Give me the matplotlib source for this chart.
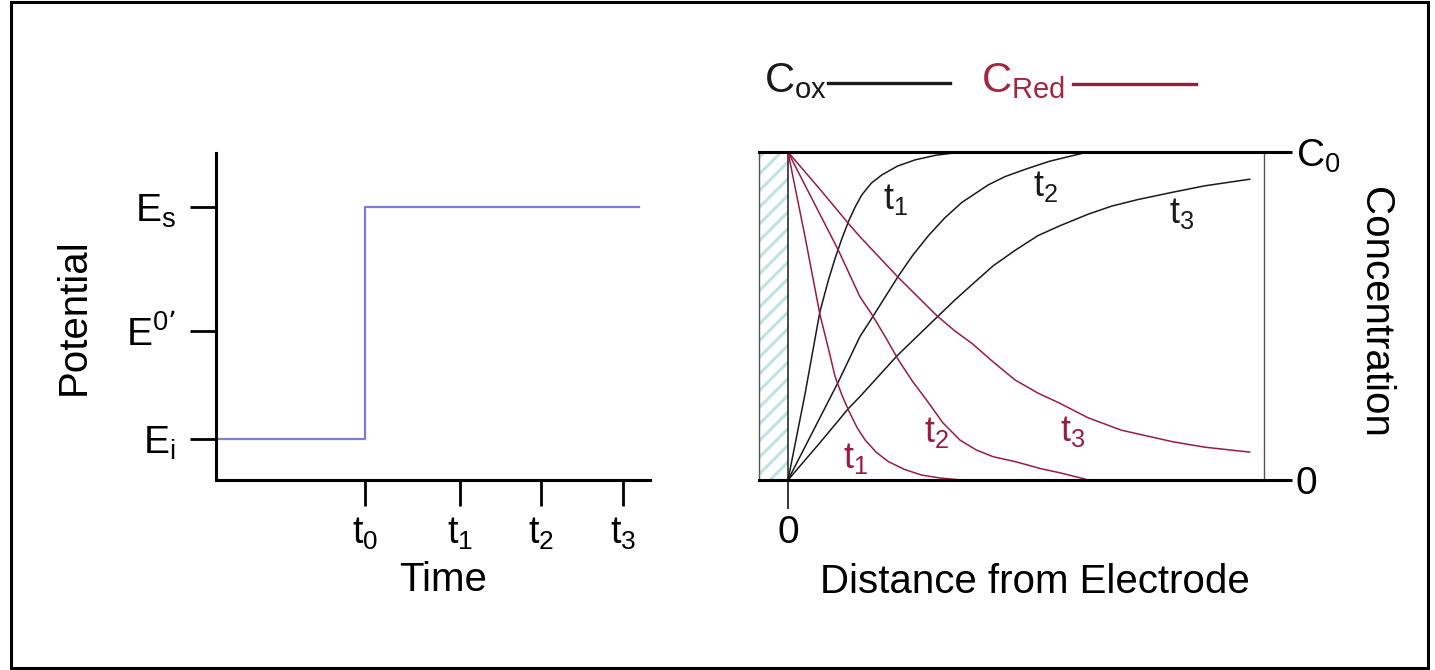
import matplotlib
matplotlib.use('Agg')
import matplotlib.pyplot as plt
from matplotlib.patches import Rectangle
from matplotlib.lines import Line2D

plt.rcParams['font.family'] = ['Liberation Sans', 'DejaVu Sans']
plt.rcParams['mathtext.default'] = 'regular'
plt.rcParams['hatch.linewidth'] = 2.2

W, H = 1435, 670

# potential step (left panel), arbitrary units
time_ticks = [1.49, 2.44, 3.25, 4.07]
time_labels = ['$t_0$', '$t_1$', '$t_2$', '$t_3$']
pot_ticks = [0.41, 1.49, 2.73]
pot_labels = ['$E_i$', '$E^{0’}$', '$E_s$']
step_t = [0.0, 1.49, 1.49, 4.23]
step_E = [0.41, 0.41, 2.73, 2.73]

# concentration profiles (right panel), distance and C/C0
ox_t1_x = [0, 0.036, 0.067, 0.085, 0.099, 0.113, 0.127, 0.141, 0.155, 0.175, 0.197, 0.23, 0.267, 0.31, 0.365]
ox_t1_c = [0, 0.264, 0.513, 0.61, 0.676, 0.735, 0.788, 0.832, 0.869, 0.905, 0.93, 0.957, 0.976, 0.99, 1.0]
ox_t2_x = [0, 0.106, 0.151, 0.176, 0.205, 0.232, 0.262, 0.295, 0.33, 0.365, 0.421, 0.456, 0.5, 0.55, 0.624]
ox_t2_c = [0, 0.30, 0.437, 0.493, 0.56, 0.622, 0.685, 0.745, 0.80, 0.846, 0.90, 0.925, 0.948, 0.972, 0.998]
ox_t3_x = [0, 0.065, 0.127, 0.151, 0.23, 0.312, 0.35, 0.386, 0.431, 0.477, 0.525, 0.571, 0.63, 0.68, 0.735, 0.807, 0.876, 0.97]
ox_t3_c = [0, 0.11, 0.218, 0.254, 0.38, 0.495, 0.548, 0.595, 0.653, 0.70, 0.745, 0.775, 0.81, 0.835, 0.855, 0.877, 0.897, 0.917]

red_t1_x = [0, 0.036, 0.067, 0.085, 0.099, 0.113, 0.127, 0.145, 0.162, 0.185, 0.211, 0.245, 0.281, 0.32, 0.365]
red_t1_c = [1, 0.74, 0.505, 0.40, 0.315, 0.26, 0.213, 0.16, 0.122, 0.085, 0.056, 0.032, 0.015, 0.006, 0.0]
red_t2_x = [0, 0.106, 0.151, 0.176, 0.205, 0.232, 0.262, 0.291, 0.325, 0.361, 0.395, 0.431, 0.48, 0.53, 0.571, 0.624]
red_t2_c = [1, 0.70, 0.559, 0.505, 0.435, 0.366, 0.30, 0.244, 0.175, 0.122, 0.092, 0.071, 0.055, 0.035, 0.022, 0.003]
red_t3_x = [0, 0.065, 0.127, 0.151, 0.23, 0.312, 0.35, 0.386, 0.431, 0.477, 0.525, 0.571, 0.63, 0.70, 0.807, 0.876, 0.97]
red_t3_c = [1, 0.89, 0.782, 0.742, 0.62, 0.502, 0.455, 0.417, 0.36, 0.305, 0.265, 0.234, 0.19, 0.152, 0.117, 0.10, 0.085]

BLUE = '#7b7bdf'
RED = '#9a1c3f'
BLACK = '#1a1a1a'


def fx(x):
    return x / W


def fy(y):
    return 1 - y / H


fig = plt.figure(figsize=(14.35, 6.70), dpi=100)

# outer frame
fig.patches.append(Rectangle((fx(11), fy(668)), fx(1428 - 11), (668 - 2) / H,
                             transform=fig.transFigure, fill=False,
                             edgecolor='black', lw=2.2))

# ---- left panel: potential step
ax1 = fig.add_axes([fx(216), fy(480), fx(650 - 216), (480 - 153) / H])
ax1.plot(step_t, step_E, color=BLUE, lw=1.6)
ax1.set_xlim(0, 4.34)
ax1.set_ylim(0, 3.27)
for s in ['top', 'right']:
    ax1.spines[s].set_visible(False)
for s in ['left', 'bottom']:
    ax1.spines[s].set_linewidth(2.2)
ax1.set_xticks(time_ticks)
ax1.set_xticklabels(time_labels)
ax1.set_yticks(pot_ticks)
ax1.set_yticklabels(pot_labels)
ax1.tick_params(axis='x', direction='out', length=19, width=2.0, pad=7, labelsize=27)
ax1.tick_params(axis='y', direction='out', length=19, width=2.0, pad=10, labelsize=28)
fig.text(fx(443), fy(580), 'Time', fontsize=29, ha='center', va='center')
fig.text(fx(74), fy(317), 'Potential', fontsize=29, rotation=90, ha='center', va='center')

# ---- right panel: concentration profiles
ax2 = fig.add_axes([fx(759), fy(480), fx(1264 - 759), (480 - 152) / H])
ax2.set_xlim(-29 / 476, 1.0)
ax2.set_ylim(0, 1)
# electrode (hatched strip)
ax2.axvspan(-29 / 476, 0, facecolor='white', edgecolor='#bfe3e3', hatch='//', lw=0)
ax2.axvline(0, color=BLACK, lw=1.1)
ax2.plot(ox_t1_x, ox_t1_c, color=BLACK, lw=1.1)
ax2.plot(ox_t2_x, ox_t2_c, color=BLACK, lw=1.1)
ax2.plot(ox_t3_x, ox_t3_c, color=BLACK, lw=1.1)
ax2.plot(red_t1_x, red_t1_c, color=RED, lw=1.1)
ax2.plot(red_t2_x, red_t2_c, color=RED, lw=1.1)
ax2.plot(red_t3_x, red_t3_c, color=RED, lw=1.1)

ax2.spines['top'].set_linewidth(2.2)
ax2.spines['bottom'].set_linewidth(2.2)
ax2.spines['left'].set_color('#555555')
ax2.spines['right'].set_color('#555555')
ax2.spines['left'].set_linewidth(1.0)
ax2.spines['right'].set_linewidth(1.0)
ax2.yaxis.tick_right()
ax2.set_yticks([0, 1])
ax2.set_yticklabels(['0', '$C_0$'])
ax2.tick_params(axis='y', direction='out', length=20, width=2.2, pad=3, labelsize=28)
ax2.set_xticks([0])
ax2.set_xticklabels(['0'])
ax2.tick_params(axis='x', direction='out', length=21, width=1.1, pad=4, labelsize=28)

# curve labels
lab = dict(fontsize=26, ha='center', va='center')
ax2.text(0.225, 0.854, '$t_1$', color=BLACK, **lab)
ax2.text(0.542, 0.896, '$t_2$', color=BLACK, **lab)
ax2.text(0.828, 0.814, '$t_3$', color=BLACK, **lab)
ax2.text(0.141, 0.067, '$t_1$', color=RED, **lab)
ax2.text(0.313, 0.146, '$t_2$', color=RED, **lab)
ax2.text(0.599, 0.149, '$t_3$', color=RED, **lab)

fig.text(fx(1035), fy(582), 'Distance from Electrode', fontsize=29, ha='center', va='center')
fig.text(fx(1375), fy(312), 'Concentration', fontsize=29, rotation=270, ha='center', va='center')

# legend above the right panel
fig.text(fx(764), fy(92), '$C_{ox}$', fontsize=30, ha='left', va='baseline', color=BLACK)
fig.lines.append(Line2D([fx(828), fx(950)], [fy(83), fy(83)], transform=fig.transFigure,
                        color=BLACK, lw=2.4))
fig.text(fx(981), fy(92), '$C_{Red}$', fontsize=30, ha='left', va='baseline', color='#a3283f')
fig.lines.append(Line2D([fx(1073), fx(1196)], [fy(84), fy(84)], transform=fig.transFigure,
                        color=RED, lw=2.4))

fig.savefig('out.png', dpi=100)
